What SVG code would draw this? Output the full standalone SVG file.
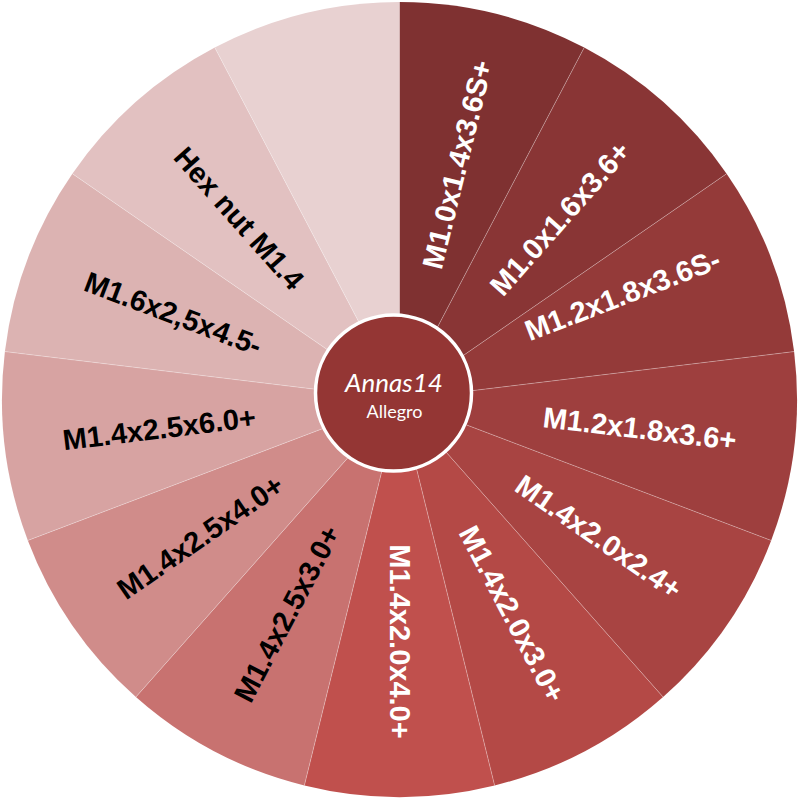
<svg xmlns="http://www.w3.org/2000/svg" width="800" height="800" viewBox="0 0 800 800">
<style>
.sep{stroke:#ffffff;stroke-opacity:0.3;stroke-width:1;fill:none}
.lbl{font-family:"Liberation Sans",Arial,sans-serif;font-weight:bold;font-size:29px;text-anchor:middle;dominant-baseline:central}
.w{fill:#ffffff}
.b{fill:#000000}
</style>
<rect width="800" height="800" fill="#ffffff"/>
<g id="sector-1"><path d="M399.5,399.5 L399.5,2 A397.5,397.5 0 0 1 584.23,47.53 Z" fill="#7f3131"/><text class="lbl w" transform="translate(457.42,164.53) rotate(-76.154)">M1.0x1.4x3.6S+</text></g>
<g id="sector-2"><path d="M399.5,399.5 L584.23,47.53 A397.5,397.5 0 0 1 726.63,173.70 Z" fill="#893535"/><text class="lbl w" transform="translate(559.97,218.36) rotate(-48.462)">M1.0x1.6x3.6+</text></g>
<g id="sector-3"><path d="M399.5,399.5 L726.63,173.70 A397.5,397.5 0 0 1 794.10,351.59 Z" fill="#943a39"/><text class="lbl w" transform="translate(622.5,295) rotate(-21)">M1.2x1.8x3.6S-</text></g>
<g id="sector-4"><path d="M399.5,399.5 L794.10,351.59 A397.5,397.5 0 0 1 771.17,540.45 Z" fill="#9e3f3e"/><text class="lbl w" transform="translate(639.74,428.67) rotate(6.923)">M1.2x1.8x3.6+</text></g>
<g id="sector-5"><path d="M399.5,399.5 L771.17,540.45 A397.5,397.5 0 0 1 663.09,697.03 Z" fill="#a84442"/><text class="lbl w" transform="translate(598.66,536.97) rotate(34.615)">M1.4x2.0x2.4+</text></g>
<g id="sector-6"><path d="M399.5,399.5 L663.09,697.03 A397.5,397.5 0 0 1 494.63,785.45 Z" fill="#b44946"/><text class="lbl w" transform="translate(511.96,613.78) rotate(62.308)">M1.4x2.0x3.0+</text></g>
<g id="sector-7"><path d="M399.5,399.5 L494.63,785.45 A397.5,397.5 0 0 1 304.37,785.45 Z" fill="#c0504d"/><text class="lbl w" transform="translate(399.5,641.5) rotate(90)">M1.4x2.0x4.0+</text></g>
<g id="sector-8"><path d="M399.5,399.5 L304.37,785.45 A397.5,397.5 0 0 1 135.91,697.03 Z" fill="#c87270"/><text class="lbl b" transform="translate(287.04,613.78) rotate(-62.308)">M1.4x2.5x3.0+</text></g>
<g id="sector-9"><path d="M399.5,399.5 L135.91,697.03 A397.5,397.5 0 0 1 27.83,540.45 Z" fill="#d08c8a"/><text class="lbl b" transform="translate(200.34,536.97) rotate(-34.615)">M1.4x2.5x4.0+</text></g>
<g id="sector-10"><path d="M399.5,399.5 L27.83,540.45 A397.5,397.5 0 0 1 4.90,351.59 Z" fill="#d7a3a2"/><text class="lbl b" transform="translate(159.26,428.67) rotate(-6.923)">M1.4x2.5x6.0+</text></g>
<g id="sector-11"><path d="M399.5,399.5 L4.90,351.59 A397.5,397.5 0 0 1 72.37,173.70 Z" fill="#dcb3b2"/><text class="lbl b" transform="translate(173.23,313.69) rotate(20.769)">M1.6x2,5x4.5-</text></g>
<g id="sector-12"><path d="M399.5,399.5 L72.37,173.70 A397.5,397.5 0 0 1 214.77,47.53 Z" fill="#e2c1c1"/><text class="lbl b" transform="translate(239.03,218.36) rotate(48.462)">Hex nut M1.4</text></g>
<g id="sector-13"><path d="M399.5,399.5 L214.77,47.53 A397.5,397.5 0 0 1 399.5,2 Z" fill="#e8d1d1"/></g>
<g id="connectors">
<path class="sep" d="M399.5,399.5 L584.23,47.53 M399.5,399.5 L726.63,173.70 M399.5,399.5 L794.10,351.59 M399.5,399.5 L771.17,540.45 M399.5,399.5 L663.09,697.03 M399.5,399.5 L494.63,785.45 M399.5,399.5 L304.37,785.45 M399.5,399.5 L135.91,697.03 M399.5,399.5 L27.83,540.45 M399.5,399.5 L4.90,351.59 M399.5,399.5 L72.37,173.70 M399.5,399.5 L214.77,47.53"/>
</g>
<g id="center">
<circle cx="393.5" cy="393" r="78" fill="#943634" stroke="#ffffff" stroke-width="3.5"/>
<text x="394" y="392" fill="#ffffff" font-family="Lato,'Open Sans',sans-serif" font-style="italic" font-size="26" text-anchor="middle">Annas14</text>
<text x="394.5" y="418" fill="#ffffff" font-family="Lato,'Open Sans',sans-serif" font-size="18" text-anchor="middle">Allegro</text>
</g>
</svg>
